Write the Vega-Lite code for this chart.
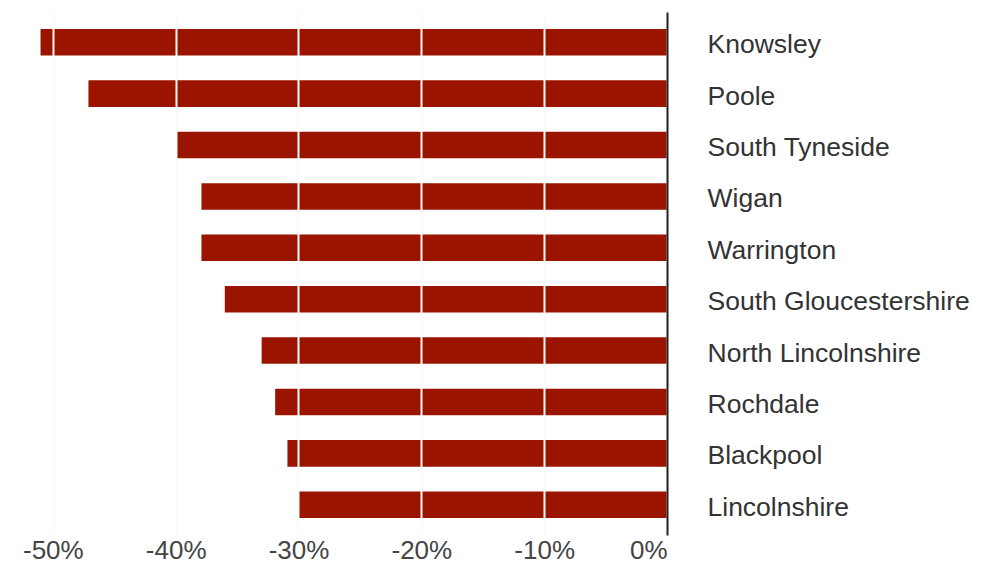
{
  "$schema": "https://vega.github.io/schema/vega-lite/v6.json",
  "autosize": "none",
  "width": 667,
  "height": 523,
  "padding": {"left": 0, "top": 12, "right": 323, "bottom": 31},
  "background": "#ffffff",
  "data": {"values": [
    {"area": "Knowsley", "change": -51.0},
    {"area": "Poole", "change": -47.1},
    {"area": "South Tyneside", "change": -39.9},
    {"area": "Wigan", "change": -37.9},
    {"area": "Warrington", "change": -37.9},
    {"area": "South Gloucestershire", "change": -36.0},
    {"area": "North Lincolnshire", "change": -33.0},
    {"area": "Rochdale", "change": -31.9},
    {"area": "Blackpool", "change": -30.9},
    {"area": "Lincolnshire", "change": -30.0}
  ]},
  "mark": {"type": "bar", "color": "#9a1400"},
  "encoding": {
    "y": {
      "field": "area", "type": "nominal", "sort": null,
      "scale": {"paddingInner": 0.484, "paddingOuter": 0.33},
      "axis": {
        "orient": "right", "title": null, "ticks": false,
        "domainColor": "#222222", "domainWidth": 2,
        "labelPadding": 40, "labelFontSize": 26.5, "labelFont": "Liberation Sans",
        "labelColor": "#333333", "labelAlign": "left", "labelLimit": 0,
        "labelOffset": 3, "zindex": 2
      }
    },
    "x": {
      "field": "change", "type": "quantitative",
      "scale": {"domain": [-54.3, 0], "nice": false},
      "axis": {
        "title": null, "values": [-50, -40, -30, -20, -10, 0],
        "labelExpr": "datum.value + '%'",
        "domain": false, "ticks": false, "labelPadding": 2,
        "labelFontSize": 26, "labelFont": "Liberation Sans", "labelColor": "#444444",
        "grid": true, "gridColor": "#fffafa", "gridWidth": 2, "gridOpacity": 1,
        "zindex": 1
      }
    }
  },
  "config": {"view": {"stroke": null}}
}
